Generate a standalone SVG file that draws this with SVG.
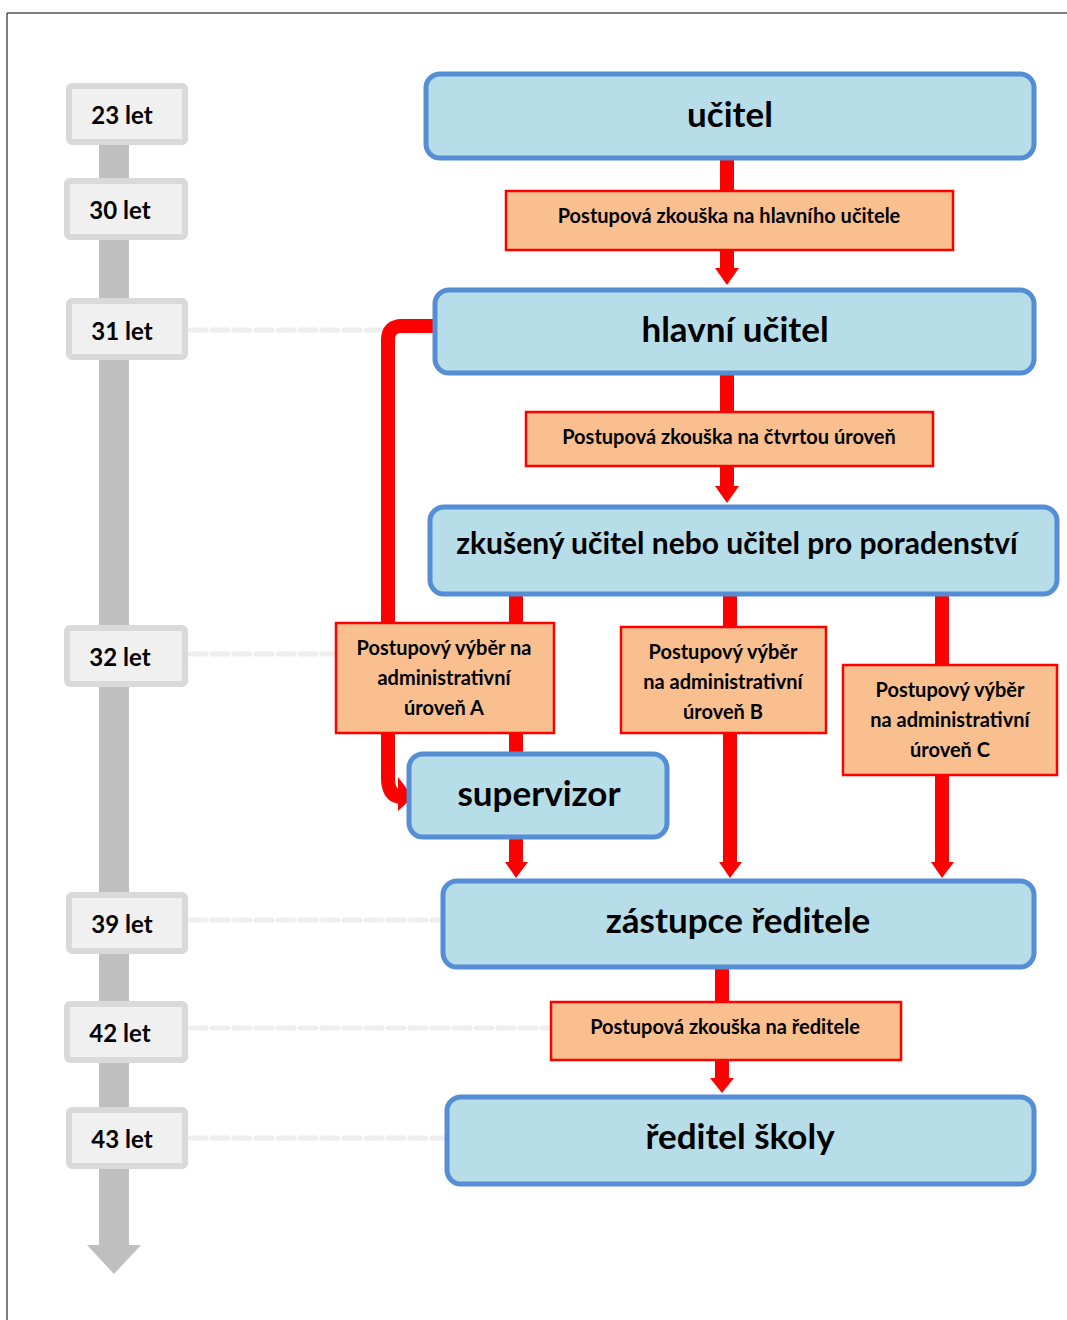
<svg xmlns="http://www.w3.org/2000/svg" width="1067" height="1320" viewBox="0 0 1067 1320">
  <style>
    text { font-family: Lato, "Open Sans", "Liberation Sans", sans-serif; font-weight: bold; fill: #000; text-anchor: middle; dominant-baseline: central; }
    .age rect { fill: #f0f0f0; stroke: #d9d9d9; stroke-width: 6; }
    .age text { font-size: 24px; }
    .role rect { fill: #b7dde8; stroke: #558ed5; stroke-width: 5; }
    .role text { font-size: 35px; }
    .step rect { fill: #f9bf8f; stroke: #ff0000; stroke-width: 2.5; }
    .step text { font-size: 20px; }
    .guide { stroke: #eeeeee; stroke-width: 5; stroke-linecap: round; stroke-dasharray: 16 6; fill: none; }
    .flow { stroke: #ff0000; stroke-width: 14; fill: none; }
    .head { fill: #ff0000; }
  </style>

  <!-- frame -->
  <path d="M7 1320 V13 H1067" fill="none" stroke="#000" stroke-width="1"/>

  <!-- timeline -->
  <g id="timeline">
    <rect x="99" y="140" width="30" height="1106" fill="#bfbfbf"/>
    <polygon points="87,1245 141,1245 114,1274" fill="#bfbfbf"/>
  </g>

  <!-- guides from age marks -->
  <g id="guides">
    <line class="guide" x1="190" y1="330" x2="384" y2="330"/>
    <line class="guide" x1="190" y1="654" x2="348" y2="654"/>
    <line class="guide" x1="190" y1="920" x2="440" y2="920"/>
    <line class="guide" x1="190" y1="1028" x2="548" y2="1028"/>
    <line class="guide" x1="190" y1="1138" x2="444" y2="1138"/>
  </g>

  <!-- connectors -->
  <g id="connectors">
    <line class="flow" x1="727" y1="158" x2="727" y2="270"/>
    <polygon class="head" points="715,268 739,268 727,285"/>
    <line class="flow" x1="727" y1="373" x2="727" y2="488"/>
    <polygon class="head" points="715,486 739,486 727,503"/>
    <line class="flow" x1="516" y1="594" x2="516" y2="864"/>
    <polygon class="head" points="505,862 528,862 516,878"/>
    <line class="flow" x1="730" y1="594" x2="730" y2="864"/>
    <polygon class="head" points="719,862 742,862 730,878"/>
    <line class="flow" x1="942" y1="591" x2="942" y2="864"/>
    <polygon class="head" points="931,862 954,862 942,878"/>
    <line class="flow" x1="722" y1="967" x2="722" y2="1080"/>
    <polygon class="head" points="710,1078 734,1078 722,1093"/>
    <path class="flow" d="M434 326 H402 Q388 326 388 340 V778 Q388 797 402 797"/>
    <polygon class="head" points="398,777 413,797 398,811"/>
  </g>

  <!-- age marks -->
  <g id="age-23" class="age"><rect x="69" y="86" width="116" height="56" rx="3"/><text x="122" y="114">23 let</text></g>
  <g id="age-30" class="age"><rect x="67" y="181" width="118" height="56" rx="3"/><text x="120" y="209">30 let</text></g>
  <g id="age-31" class="age"><rect x="69" y="301" width="116" height="56" rx="3"/><text x="122" y="330">31 let</text></g>
  <g id="age-32" class="age"><rect x="67" y="628" width="118" height="56" rx="3"/><text x="120" y="656">32 let</text></g>
  <g id="age-39" class="age"><rect x="69" y="895" width="116" height="56" rx="3"/><text x="122" y="923">39 let</text></g>
  <g id="age-42" class="age"><rect x="67" y="1004" width="118" height="56" rx="3"/><text x="120" y="1032">42 let</text></g>
  <g id="age-43" class="age"><rect x="69" y="1110" width="116" height="56" rx="3"/><text x="122" y="1138">43 let</text></g>

  <!-- roles -->
  <g id="ucitel" class="role"><rect x="426" y="74" width="608" height="84" rx="14"/><text x="730" y="113">učitel</text></g>
  <g id="hlavni-ucitel" class="role"><rect x="435" y="290" width="599" height="83" rx="14"/><text x="735" y="328">hlavní učitel</text></g>
  <g id="zkuseny-ucitel" class="role"><rect x="430" y="507" width="627" height="87" rx="14"/><text x="737" y="542" style="font-size:30px">zkušený učitel nebo učitel pro poradenství</text></g>
  <g id="supervizor" class="role"><rect x="409" y="754" width="258" height="83" rx="14"/><text x="539" y="792">supervizor</text></g>
  <g id="zastupce-reditele" class="role"><rect x="443" y="881" width="591" height="86" rx="14"/><text x="738" y="919">zástupce ředitele</text></g>
  <g id="reditel-skoly" class="role"><rect x="447" y="1097" width="587" height="87" rx="14"/><text x="740" y="1135">ředitel školy</text></g>

  <!-- promotion steps -->
  <g id="zkouska-hlavni" class="step"><rect x="506" y="191" width="447" height="59"/><text x="729" y="215">Postupová zkouška na hlavního učitele</text></g>
  <g id="zkouska-ctvrta" class="step"><rect x="526" y="412" width="407" height="54"/><text x="729" y="436">Postupová zkouška na čtvrtou úroveň</text></g>
  <g id="vyber-a" class="step"><rect x="336" y="623" width="218" height="110"/>
    <text x="444" y="647">Postupový výběr na</text><text x="444" y="677">administrativní</text><text x="444" y="707">úroveň A</text></g>
  <g id="vyber-b" class="step"><rect x="621" y="627" width="205" height="106"/>
    <text x="723" y="651">Postupový výběr</text><text x="723" y="681">na administrativní</text><text x="723" y="711">úroveň B</text></g>
  <g id="vyber-c" class="step"><rect x="843" y="665" width="214" height="110"/>
    <text x="950" y="689">Postupový výběr</text><text x="950" y="719">na administrativní</text><text x="950" y="749">úroveň C</text></g>
  <g id="zkouska-reditel" class="step"><rect x="551" y="1002" width="350" height="58"/><text x="725" y="1026">Postupová zkouška na ředitele</text></g>
</svg>
